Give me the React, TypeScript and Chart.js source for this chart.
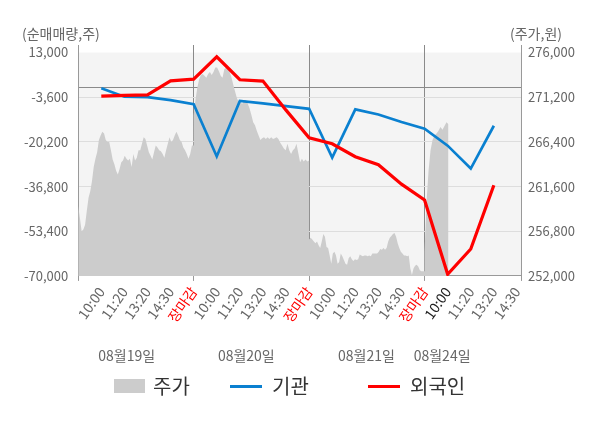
import React, { useEffect, useRef } from 'react';
import { Chart, registerables } from 'chart.js';

Chart.register(...registerables);

// x-axis slots: 5 per trading day, 장마감 closes each day
const TIME_LABELS = [
  '10:00', '11:20', '13:20', '14:30', '장마감',
  '10:00', '11:20', '13:20', '14:30', '장마감',
  '10:00', '11:20', '13:20', '14:30', '장마감',
  '10:00', '11:20', '13:20', '14:30',
];
const DATE_LABELS = ['08월19일', '08월20일', '08월21일', '08월24일'];

const LEFT_TICKS = [-70000, -53400, -36800, -20200, -3600, 13000];
const RIGHT_TICKS = [252000, 256800, 261600, 266400, 271200, 276000];

// 순매매량 (shares), one value per time slot
const INSTITUTION = [
  -300, -3400, -3600, -4700, -6200, -25600, -5000, -5900, -6900,
  -7900, -26000, -8100, -10000, -12800, -15300, -21600, -30100, -14200,
];
const FOREIGN = [
  -3200, -2900, -2700, 2500, 3100, 11400, 2900, 2400, -8400,
  -18700, -20900, -25700, -28700, -35900, -41800, -69400, -60000, -36300,
];

// 주가 (won), intraday samples
const PRICE_0819 = [
  259500, 258200, 256800, 257000, 257500, 259000, 260400, 261100, 262200, 263700,
  264600, 265300, 266600, 267100, 267500, 267300, 266600, 266400, 266400, 265500,
  264500, 264000, 263300, 262900, 263500, 264200, 264400, 264900, 264600, 264400,
  264600, 263700, 265100, 264400, 264700, 265500, 265500, 266200, 266900, 266700,
  266000, 265300, 264900, 264500, 265300, 266000, 265800, 265500, 265400, 265100,
  264700, 265500, 266200, 266900, 266400, 266600, 267100, 267500, 267100, 266600,
  266400, 265800, 265500, 265100, 264600, 265100, 266000, 266000,
];
const PRICE_0820 = [
  269300, 270900, 272200, 273100, 273600, 273700, 273500, 273300, 273700, 273900,
  273600, 273900, 274400, 274400, 274000, 273500, 273300, 274200, 274400, 274200,
  273900, 273300, 272500, 271800, 271100, 270700, 270600, 270500, 270900, 270900,
  270500, 270000, 269300, 268500, 268200, 267600, 267100, 266600, 266800, 266900,
  266700, 266900, 266700, 266900, 266700, 266800, 266900, 266700, 266300, 266000,
  265700, 265500, 266200, 265500, 265100, 265500, 265700, 266200, 265200, 264200,
  264600, 264300, 264500, 264300, 264400,
];
const PRICE_0821 = [
  255900, 256100, 255900, 255700, 255500, 255700, 255300, 255000, 255700, 256500,
  256200, 255100, 255000, 254200, 253300, 254400, 254600, 254200, 253300, 253500,
  254400, 254100, 253700, 253300, 253200, 253900, 254100, 253800, 253600, 253800,
  253700, 253800, 254300, 254200, 254100, 254200, 254200, 254100, 254200, 254100,
  254400, 254400, 254400, 254400, 254600, 254900, 254800, 255000, 254800, 255000,
  255700, 256100, 256300, 256500, 256600, 256200, 255500, 255000, 254600, 254400,
  254200, 254200, 254100, 254200, 252800, 252100, 252800, 253100, 253200, 253000,
  252600, 252500, 252500, 252500,
];
const PRICE_0824 = [
  254600, 260000, 263300, 265500, 266600, 267100, 267300, 267600, 268000, 267700,
  268100, 268500, 268300,
];

const FONT = '"Noto Sans CJK KR", "Noto Sans", sans-serif';
const BLUE = '#0a80d0';
const RED = '#ff0000';
const SLOTS_PER_DAY = 5;
const SESSION_STEPS = 58; // sampling step for the unfinished day
const X_MAX = 18.18;
const HEADROOM = 0.0338; // axis lines run a bit above the top tick
const DAY_EDGES = [4, 9, 14];
const DATE_AT = [1.1, 6.28, 11.48, 14.76];

const leftMax = 13000 + 83000 * HEADROOM;
const rightMax = 276000 + 24000 * HEADROOM;

const pricePoints: { x: number; y: number }[] = [];
[PRICE_0819, PRICE_0820, PRICE_0821].forEach((day, d) => {
  day.forEach((p, i) => {
    pricePoints.push({ x: d * SLOTS_PER_DAY - 1 + (i * SLOTS_PER_DAY) / (day.length - 1), y: p });
  });
});
PRICE_0824.forEach((p, i) => {
  pricePoints.push({ x: 3 * SLOTS_PER_DAY - 1 + (i * SLOTS_PER_DAY) / SESSION_STEPS, y: p });
});

const plotBackground = {
  id: 'plotBackground',
  beforeDraw(chart: any) {
    const { ctx, chartArea, scales } = chart;
    const top = scales.y.getPixelForValue(13000);
    ctx.save();
    ctx.fillStyle = '#f4f4f4';
    ctx.fillRect(chartArea.left, top, chartArea.right - chartArea.left, chartArea.bottom - top);
    ctx.restore();
  },
};

const App: React.FC = () => {
  const canvasRef = useRef<HTMLCanvasElement>(null);
  const chartRef = useRef<Chart | null>(null);

  useEffect(() => {
    if (!canvasRef.current) return;
    const ctx = canvasRef.current.getContext('2d');
    if (!ctx) return;
    if (chartRef.current) chartRef.current.destroy();

    chartRef.current = new Chart(ctx, {
      type: 'line',
      data: {
        datasets: [
          {
            label: '외국인',
            data: FOREIGN.map((v, i) => ({ x: i, y: v })),
            yAxisID: 'y',
            borderColor: RED,
            borderWidth: 3.2,
            pointRadius: 0,
            fill: false,
            order: 1,
          },
          {
            label: '기관',
            data: INSTITUTION.map((v, i) => ({ x: i, y: v })),
            yAxisID: 'y',
            borderColor: BLUE,
            borderWidth: 2.7,
            pointRadius: 0,
            fill: false,
            order: 2,
          },
          {
            label: '주가',
            data: pricePoints,
            yAxisID: 'yR',
            borderColor: 'rgba(0,0,0,0)',
            borderWidth: 0,
            backgroundColor: '#cccccc',
            pointRadius: 0,
            fill: 'start',
            order: 3,
          },
        ],
      },
      options: {
        responsive: false,
        animation: false,
        events: [],
        layout: { padding: { left: 14, right: 18, top: 45, bottom: 53 } },
        plugins: {
          legend: { display: false },
          tooltip: { enabled: false },
        },
        scales: {
          x: {
            type: 'linear',
            position: 'bottom',
            weight: 1,
            min: -1,
            max: X_MAX,
            afterBuildTicks: (axis: any) => {
              axis.ticks = [-1, ...TIME_LABELS.map((_, i) => i), X_MAX].map((value) => ({ value }));
            },
            ticks: {
              autoSkip: false,
              minRotation: 55,
              maxRotation: 55,
              padding: 3,
              font: { family: FONT, size: 14 },
              color: (c: any) => {
                const label = TIME_LABELS[c.tick?.value];
                if (label === '장마감') return RED;
                if (c.tick?.value === 15) return '#222222';
                return '#666666';
              },
              callback: (value: any) => TIME_LABELS[value] ?? '',
            },
            grid: {
              color: (c: any) => (DAY_EDGES.includes(c.tick?.value) ? '#8a8a8a' : 'rgba(0,0,0,0)'),
              tickColor: (c: any) =>
                [-1, ...DAY_EDGES, X_MAX].includes(c.tick?.value) ? '#999999' : 'rgba(0,0,0,0)',
              tickLength: 5,
            },
            border: { color: '#999999' },
          },
          x2: {
            type: 'linear',
            position: 'bottom',
            weight: 2,
            min: -1,
            max: X_MAX,
            afterBuildTicks: (axis: any) => {
              axis.ticks = DATE_AT.map((value) => ({ value }));
            },
            ticks: {
              autoSkip: false,
              maxRotation: 0,
              padding: 11,
              font: { family: FONT, size: 14 },
              color: '#666666',
              callback: (_v: any, index: number) => DATE_LABELS[index],
            },
            grid: { display: false },
            border: { display: false },
          },
          y: {
            type: 'linear',
            position: 'left',
            min: -70000,
            max: leftMax,
            afterBuildTicks: (axis: any) => {
              axis.ticks = [...LEFT_TICKS.slice(0, 5), 0, 13000].map((value) => ({ value }));
            },
            ticks: {
              padding: 10,
              font: { family: FONT, size: 13 },
              color: '#666666',
              callback: (value: any) => (value === 0 ? '' : Number(value).toLocaleString('en-US')),
            },
            grid: {
              drawTicks: false,
              color: (c: any) => {
                if (c.tick?.value === 0) return '#8a8a8a';
                if (c.tick?.value === 13000) return 'rgba(0,0,0,0)';
                return '#dddddd';
              },
            },
            border: { color: '#999999' },
          },
          yR: {
            type: 'linear',
            position: 'right',
            min: 252000,
            max: rightMax,
            afterBuildTicks: (axis: any) => {
              axis.ticks = RIGHT_TICKS.map((value) => ({ value }));
            },
            ticks: {
              padding: 7,
              font: { family: FONT, size: 13 },
              color: '#666666',
              callback: (value: any) => Number(value).toLocaleString('en-US'),
            },
            grid: { drawOnChartArea: false, drawTicks: false },
            border: { color: '#999999' },
          },
        },
      },
      plugins: [plotBackground],
    });

    return () => {
      if (chartRef.current) {
        chartRef.current.destroy();
        chartRef.current = null;
      }
    };
  }, []);

  const legendText: React.CSSProperties = {
    position: 'absolute',
    top: 375,
    fontSize: 20,
    lineHeight: '22px',
    color: '#333333',
  };

  return (
    <div style={{ position: 'fixed', left: 0, top: 0, width: 600, height: 428, background: '#ffffff', fontFamily: FONT }}>
      <canvas ref={canvasRef} width={600} height={428} style={{ position: 'absolute', left: 0, top: 0 }} />
      <div style={{ position: 'absolute', left: 22, top: 25, fontSize: 14, lineHeight: '16px', color: '#666666' }}>
        (순매매량,주)
      </div>
      <div style={{ position: 'absolute', right: 38, top: 25, fontSize: 14, lineHeight: '16px', color: '#666666' }}>
        (주가,원)
      </div>
      <div style={{ position: 'absolute', left: 114, top: 379, width: 31, height: 14, background: '#cccccc' }} />
      <div style={{ ...legendText, left: 153 }}>주가</div>
      <div style={{ position: 'absolute', left: 230, top: 385, width: 32, height: 3, background: BLUE }} />
      <div style={{ ...legendText, left: 272 }}>기관</div>
      <div style={{ position: 'absolute', left: 368, top: 385, width: 32, height: 3, background: RED }} />
      <div style={{ ...legendText, left: 410 }}>외국인</div>
    </div>
  );
};

export default App;
